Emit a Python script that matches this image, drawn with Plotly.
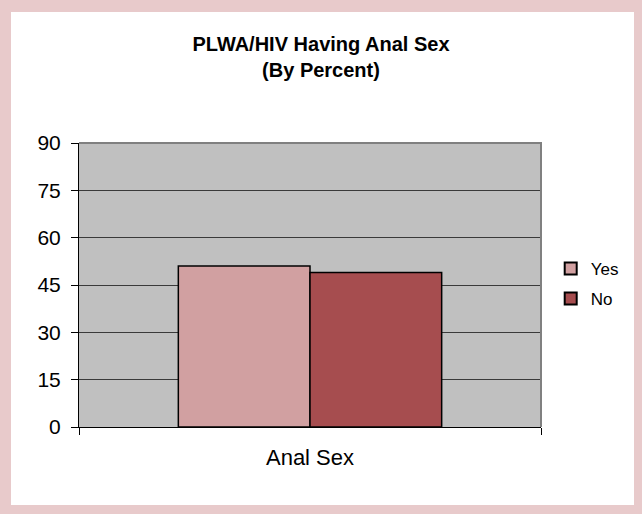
import plotly.graph_objects as go

# data
categories = ["Anal Sex"]
yes_values = [51]
no_values = [49]
y_ticks = [0, 15, 30, 45, 60, 75, 90]

W, H = 642, 514
L, R, T, B = 79, 101, 143, 87

fig = go.Figure()

fig.add_trace(go.Bar(
    x=categories, y=yes_values, name="Yes", legendgroup="yes",
    marker=dict(color="#D1A0A1", line=dict(color="black", width=1.5)),
))
fig.add_trace(go.Bar(
    x=categories, y=no_values, name="No", legendgroup="no",
    marker=dict(color="#A64D4F", line=dict(color="black", width=1.5)),
))

# pink frame around the white page
pink = "#E8CACB"
pw, ph = W - L - R, H - T - B
def px(v):
    return (v - L) / pw
def py(v):
    return (H - B - v) / ph
frame = [
    (0, 0, 11, H),
    (634, 0, W, H),
    (0, 0, W, 12),
    (0, 505, W, H),
]
shapes = []
for x0, y0, x1, y1 in frame:
    shapes.append(dict(type="rect", xref="paper", yref="paper",
                       x0=px(x0), x1=px(x1), y0=py(y1), y1=py(y0),
                       fillcolor=pink, line=dict(width=0), layer="below"))
# grey border on top and right of the plot area
shapes.append(dict(type="path", xref="paper", yref="paper",
                   path="M 0,1 L 1,1 L 1,0", line=dict(color="#808080", width=2),
                   layer="above"))

fig.update_layout(
    width=W, height=H,
    margin=dict(l=L, r=R, t=T, b=B),
    paper_bgcolor="white",
    plot_bgcolor="#C0C0C0",
    font=dict(family="Arial, Liberation Sans, sans-serif", color="black", size=16),
    title=dict(
        text="<b>PLWA/HIV Having Anal Sex<br>(By Percent)</b>",
        x=0.5, xanchor="center", y=1 - 51 / H, yanchor="top",
        font=dict(size=20),
    ),
    barmode="group",
    bargap=0.43,
    bargroupgap=0,
    showlegend=True,
    legend=dict(
        x=1.021, xanchor="left", y=0.62, yanchor="top",
        font=dict(size=17), bgcolor="rgba(0,0,0,0)",
        tracegroupgap=5, itemsizing="constant",
    ),
    shapes=shapes,
    xaxis=dict(
        showline=True, linecolor="black", linewidth=1,
        ticks="outside", tickson="boundaries", ticklen=7, tickcolor="black",
        showgrid=False, tickfont=dict(size=22), ticklabelstandoff=11,
    ),
    yaxis=dict(
        range=[0, 90], tickvals=y_ticks,
        showline=True, linecolor="black", linewidth=1,
        ticks="outside", ticklen=7, tickcolor="black",
        showgrid=True, gridcolor="#3a3a3a", gridwidth=1,
        zeroline=False, tickfont=dict(size=21), ticklabelstandoff=6,
    ),
)

fig.write_html("out.html", config={"displayModeBar": False},
               post_script="document.body.style.margin='0';")
